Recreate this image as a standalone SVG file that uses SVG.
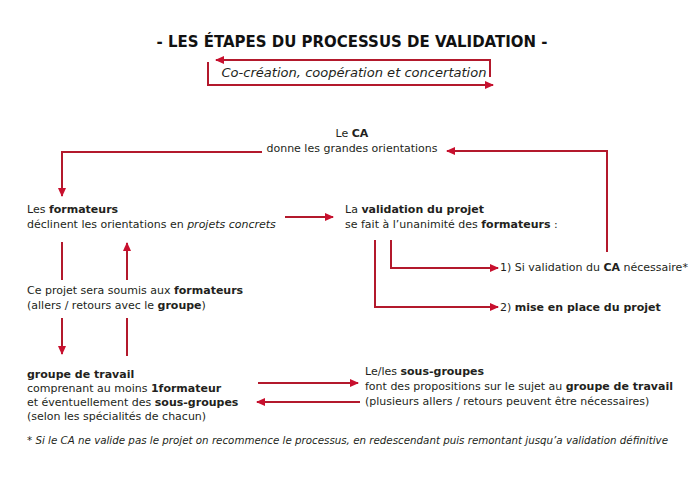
<svg xmlns="http://www.w3.org/2000/svg" width="700" height="498" viewBox="0 0 700 498">
<style>
text{font-family:"DejaVu Sans","Liberation Sans",sans-serif;font-size:11px;fill:#231f20}
.b{font-weight:bold}
.i{font-style:italic}
.title{font-size:15.5px;font-weight:bold;fill:#111}
.sub{font-size:12.5px;font-style:italic}
.foot{font-size:10.5px;font-style:italic}
.c{fill:none;stroke:#b3192c;stroke-width:2}
</style>
<defs>
<marker id="ah" markerUnits="userSpaceOnUse" markerWidth="9" markerHeight="8" refX="8" refY="4" orient="auto">
<path d="M0,0 L9,4 L0,8 Z" fill="#c8102e"/>
</marker>
</defs>
<rect width="700" height="498" fill="#fff"/>

<g id="title">
<text class="title" x="352" y="47" text-anchor="middle" textLength="391" lengthAdjust="spacingAndGlyphs">- LES ÉTAPES DU PROCESSUS DE VALIDATION -</text>
<text class="sub" x="354" y="77" text-anchor="middle" textLength="265" lengthAdjust="spacingAndGlyphs">Co-création, coopération et concertation</text>
</g>

<g id="connectors">
<path class="c" d="M490,77 V60 H216" marker-end="url(#ah)"/>
<path class="c" d="M208,62 V85 H493" marker-end="url(#ah)"/>
<path class="c" d="M262,152 H62 V196" marker-end="url(#ah)"/>
<path class="c" d="M607,252 V151 H447" marker-end="url(#ah)"/>
<path class="c" d="M285,217 H333" marker-end="url(#ah)"/>
<path class="c" d="M391,240 V268 H498" marker-end="url(#ah)"/>
<path class="c" d="M375,240 V307 H498" marker-end="url(#ah)"/>
<path class="c" d="M62,242 V280"/>
<path class="c" d="M127,280 V243" marker-end="url(#ah)"/>
<path class="c" d="M62,318 V354" marker-end="url(#ah)"/>
<path class="c" d="M127,318 V356"/>
<path class="c" d="M258,383 H358" marker-end="url(#ah)"/>
<path class="c" d="M360,402 H257" marker-end="url(#ah)"/>
</g>

<g id="ca">
<text x="352" y="137" text-anchor="middle">Le <tspan class="b">CA</tspan></text>
<text x="352" y="152" text-anchor="middle">donne les grandes orientations</text>
</g>

<g id="formateurs">
<text x="27" y="213">Les <tspan class="b">formateurs</tspan></text>
<text x="27" y="228">déclinent les orientations en <tspan class="i">projets concrets</tspan></text>
</g>

<g id="validation">
<text x="345" y="213">La <tspan class="b">validation du projet</tspan></text>
<text x="345" y="228">se fait à l’unanimité des <tspan class="b">formateurs</tspan> :</text>
</g>

<g id="si-validation">
<text x="500" y="271">1) Si validation du <tspan class="b">CA</tspan> nécessaire*</text>
</g>

<g id="mise-en-place">
<text x="500" y="311">2) <tspan class="b">mise en place du projet</tspan></text>
</g>

<g id="soumis">
<text x="27" y="294">Ce projet sera soumis aux <tspan class="b">formateurs</tspan></text>
<text x="27" y="309">(allers / retours avec le <tspan class="b">groupe</tspan>)</text>
</g>

<g id="groupe-travail">
<text x="27" y="378" class="b">groupe de travail</text>
<text x="27" y="392">comprenant au moins <tspan class="b">1formateur</tspan></text>
<text x="27" y="406">et éventuellement des <tspan class="b">sous-groupes</tspan></text>
<text x="27" y="420">(selon les spécialités de chacun)</text>
</g>

<g id="sous-groupes">
<text x="365" y="375">Le/les <tspan class="b">sous-groupes</tspan></text>
<text x="365" y="390">font des propositions sur le sujet au <tspan class="b">groupe de travail</tspan></text>
<text x="365" y="405">(plusieurs allers / retours peuvent être nécessaires)</text>
</g>

<g id="footnote">
<text class="foot" x="27" y="444" textLength="641" lengthAdjust="spacingAndGlyphs">* Si le CA ne valide pas le projet on recommence le processus, en redescendant puis remontant jusqu’a validation définitive</text>
</g>
</svg>
